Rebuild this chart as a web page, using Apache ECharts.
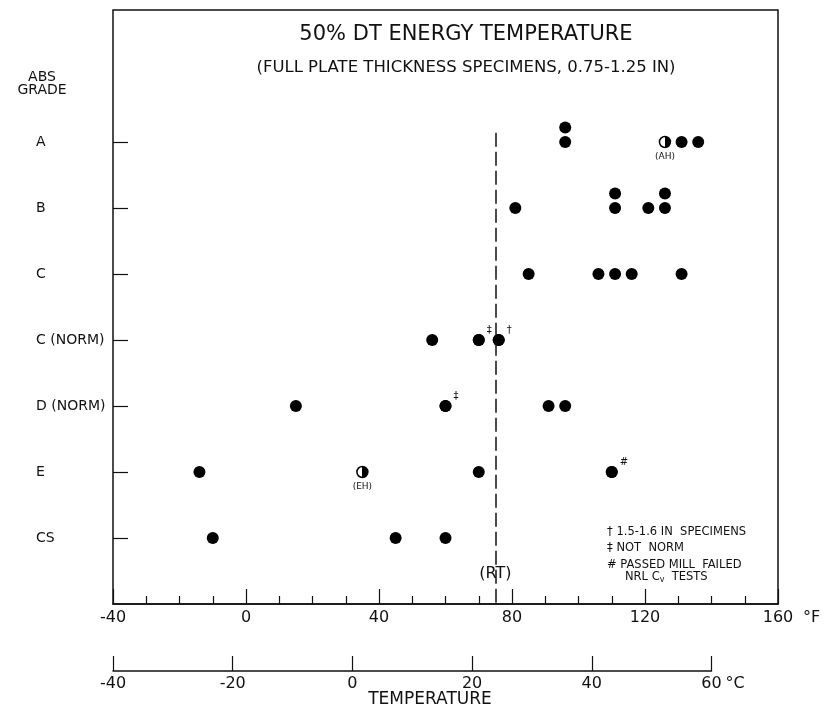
<!DOCTYPE html>
<html><head><meta charset="utf-8">
<script src="https://cdn.jsdelivr.net/npm/echarts@6/dist/echarts.min.js"></script>
<style>html,body{margin:0;padding:0;background:#fff}#c{width:825px;height:717px}</style>
</head><body><div id="c"></div>
<script>
// ---- data ----
const grades = ['CS', 'E', 'D (NORM)', 'C (NORM)', 'C', 'B', 'A']; // bottom to top
const gradeLevels = [1, 2, 3, 4, 5, 6, 7];
const fahrenheitRange = [-40, 160];
const celsiusRange = [-40, 60];
const solidPoints = [
  [96, 'A'], [131, 'A'], [136, 'A'],
  [81, 'B'], [111, 'B'], [121, 'B'], [126, 'B'],
  [85, 'C'], [106, 'C'], [111, 'C'], [116, 'C'], [131, 'C'],
  [56, 'C (NORM)'], [70, 'C (NORM)'], [76, 'C (NORM)'],
  [15, 'D (NORM)'], [60, 'D (NORM)'], [91, 'D (NORM)'], [96, 'D (NORM)'],
  [-14, 'E'], [70, 'E'], [110, 'E'],
  [-10, 'CS'], [45, 'CS'], [60, 'CS']
];
const stackedPoints = [[96, 'A'], [111, 'B'], [126, 'B']]; // second specimen at same temperature
const halfPoints = [[126, 'A', '(AH)'], [35, 'E', '(EH)']];
const markedPoints = [[70, 'C (NORM)', '‡'], [76, 'C (NORM)', '†'], [60, 'D (NORM)', '‡'], [110, 'E', '#']];
const roomTemp = 75;
const footnotes = ['† 1.5-1.6 IN  SPECIMENS', '‡ NOT  NORM', '# PASSED MILL  FAILED'];

// ---- chart ----
const FONT = 'DejaVu Sans';
const INK = '#111';
const lvl = g => grades.indexOf(g) + 1;
const STACK = 0.22;
const chart = echarts.init(document.getElementById('c'), null, {renderer: 'canvas'});

const dot = {symbol: 'circle', symbolSize: 12, itemStyle: {color: '#000', opacity: 1}};
const halfFill = new echarts.graphic.LinearGradient(0, 0, 1, 0, [
  {offset: 0, color: '#fff'}, {offset: 0.5, color: '#fff'},
  {offset: 0.5, color: '#000'}, {offset: 1, color: '#000'}
]);

chart.setOption({
  animation: false,
  backgroundColor: '#fff',
  textStyle: {fontFamily: FONT, color: INK},
  title: [
    {text: '50% DT ENERGY TEMPERATURE', left: 461, top: 19, textAlign: 'center',
      textStyle: {fontFamily: FONT, fontSize: 21, fontWeight: 'normal', color: INK}},
    {text: '(FULL PLATE THICKNESS SPECIMENS, 0.75-1.25 IN)', left: 461, top: 54, textAlign: 'center',
      textStyle: {fontFamily: FONT, fontSize: 16.5, fontWeight: 'normal', color: INK}}
  ],
  grid: [
    {left: 113, right: 47, top: 10, bottom: 113, show: true, borderColor: INK, borderWidth: 1.5,
      backgroundColor: 'transparent', outerBoundsMode: 'none'},
    {left: 113, width: 598.5, top: 651, height: 20, show: false, outerBoundsMode: 'none'}
  ],
  xAxis: [
    {type: 'value', gridIndex: 0, min: fahrenheitRange[0], max: fahrenheitRange[1], interval: 40,
      axisLine: {show: true, onZero: false, lineStyle: {color: INK, width: 1.5}},
      axisTick: {show: true, inside: true, length: 15, lineStyle: {color: INK, width: 1.2}},
      minorTick: {show: true, splitNumber: 4, length: 8, lineStyle: {color: INK, width: 1.2}},
      axisLabel: {fontSize: 16, color: INK, margin: 6, fontFamily: FONT},
      splitLine: {show: false}, minorSplitLine: {show: false},
      name: '°F', nameLocation: 'end', nameGap: 25,
      nameTextStyle: {fontSize: 16, color: INK, fontFamily: FONT, verticalAlign: 'top', padding: [6, 0, 0, 0]}},
    {type: 'value', gridIndex: 1, min: celsiusRange[0], max: celsiusRange[1], interval: 20,
      axisLine: {show: true, onZero: false, lineStyle: {color: INK, width: 1.5}},
      axisTick: {show: true, inside: true, length: 15, lineStyle: {color: INK, width: 1.2}},
      axisLabel: {fontSize: 16, color: INK, margin: 5, fontFamily: FONT},
      splitLine: {show: false},
      name: '°C', nameLocation: 'end', nameGap: 13,
      nameTextStyle: {fontSize: 16, color: INK, fontFamily: FONT, verticalAlign: 'top', padding: [5, 0, 0, 0]}}
  ],
  yAxis: [
    {type: 'value', gridIndex: 0, min: 0, max: 9, interval: 1, position: 'left',
      axisLine: {show: false, onZero: false},
      axisTick: {show: true, inside: true, length: 15, customValues: gradeLevels, lineStyle: {color: INK, width: 1.2}},
      axisLabel: {show: true, customValues: gradeLevels, formatter: v => grades[v - 1] || '',
        align: 'left', margin: 77, fontSize: 14, color: INK, fontFamily: FONT},
      splitLine: {show: false}},
    {type: 'value', gridIndex: 1, min: 0, max: 1, show: false}
  ],
  series: [
    Object.assign({type: 'scatter', name: 'solid', xAxisIndex: 0, yAxisIndex: 0,
      data: solidPoints.map(p => [p[0], lvl(p[1])]),
      markLine: {silent: true, symbol: ['none', 'none'], label: {show: false},
        lineStyle: {type: [14, 5], color: INK, width: 1.5, opacity: 1},
        data: [[{coord: [roomTemp, 7.14]}, {coord: [roomTemp, 0]}]]}}, dot),
    Object.assign({type: 'scatter', name: 'stacked', xAxisIndex: 0, yAxisIndex: 0,
      data: stackedPoints.map(p => [p[0], lvl(p[1]) + STACK])}, dot),
    Object.assign({type: 'scatter', name: 'marked', xAxisIndex: 0, yAxisIndex: 0,
      data: markedPoints.map(p => ({value: [p[0], lvl(p[1])], mark: p[2]})),
      label: {show: true, formatter: pr => pr.data.mark, position: [14, -4], align: 'left',
        verticalAlign: 'middle', fontSize: 10, color: INK, fontFamily: FONT, opacity: 1}}, dot),
    {type: 'scatter', name: 'half', xAxisIndex: 0, yAxisIndex: 0, symbol: 'circle', symbolSize: 11,
      itemStyle: {color: halfFill, borderColor: '#000', borderWidth: 1.5, opacity: 1},
      data: halfPoints.map(p => ({value: [p[0], lvl(p[1])], tag: p[2]})),
      label: {show: true, position: 'bottom', distance: 4, formatter: pr => pr.data.tag,
        fontSize: 9, color: INK, fontFamily: FONT, opacity: 1}}
  ]
});

const rt = chart.convertToPixel({gridIndex: 0}, [roomTemp, 0.45]);
const txt = (x, y, text, size, align, extra) => ({type: 'text', x, y, silent: true,
  style: Object.assign({text, fontSize: size, fontFamily: FONT, fill: INK, align: align || 'left', verticalAlign: 'middle'}, extra || {})});
chart.setOption({
  graphic: [
    txt(42, 77, 'ABS', 14, 'center'),
    txt(42, 90, 'GRADE', 14, 'center'),
    txt(rt[0], rt[1], '(RT)', 16, 'center', {backgroundColor: '#fff', padding: [1, 1]}),
    txt(607, 532, footnotes[0], 11.5),
    txt(607, 548, footnotes[1], 11.5),
    txt(607, 565, footnotes[2], 11.5),
    {type: 'text', x: 625, y: 577, silent: true,
      style: {text: 'NRL C{s|v}  TESTS', fontSize: 11.5, fontFamily: FONT, fill: INK, verticalAlign: 'middle',
        rich: {s: {fontSize: 8, fontFamily: FONT, fill: INK, padding: [6, 0, 0, 0]}}}},
    txt(430, 700, 'TEMPERATURE', 17, 'center')
  ]
});
</script></body></html>
